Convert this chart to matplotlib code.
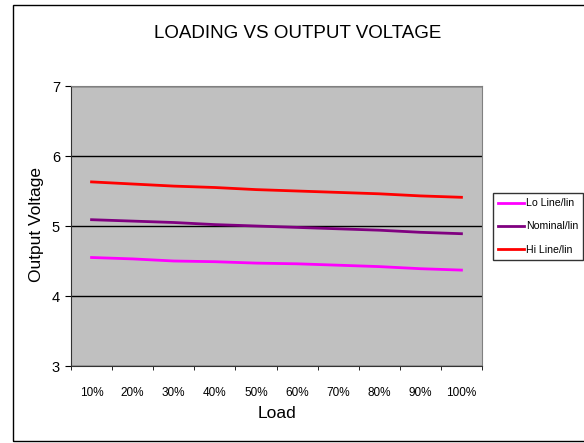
import numpy as np
import matplotlib
matplotlib.use("Agg")
import matplotlib.pyplot as plt
from matplotlib.patches import Rectangle

plt.rcParams['font.family'] = ['Liberation Sans', 'DejaVu Sans']

# 数据
loads = ['10%', '20%', '30%', '40%', '50%', '60%', '70%', '80%', '90%', '100%']
lo_line = [4.55, 4.53, 4.50, 4.49, 4.47, 4.46, 4.44, 4.42, 4.39, 4.37]
nominal = [5.09, 5.07, 5.05, 5.02, 5.00, 4.98, 4.96, 4.94, 4.91, 4.89]
hi_line = [5.63, 5.60, 5.57, 5.55, 5.52, 5.50, 5.48, 5.46, 5.43, 5.41]
series_names = ['Lo Line/lin', 'Nominal/lin', 'Hi Line/lin']
series_colors = ['#FF00FF', '#800080', '#FF0000']

W, H = 584, 443
fig = plt.figure(figsize=(W / 100, H / 100), dpi=100)

# 外框
fig.patches.append(Rectangle((13 / W, 1 - 441 / H), 600 / W, 436 / H,
                             transform=fig.transFigure, fill=False,
                             edgecolor='black', linewidth=1))

ax = fig.add_axes([71 / W, 1 - 366 / H, 411 / W, 280 / H])
ax.set_facecolor('#C0C0C0')

x = np.arange(len(loads))
for vals, name, c in zip([lo_line, nominal, hi_line], series_names, series_colors):
    ax.plot(x, vals, color=c, linewidth=2, label=name)

ax.set_xlim(-0.5, len(loads) - 0.5)
ax.set_ylim(3, 7)
ax.set_yticks([3, 4, 5, 6, 7])
ax.set_xticks(x)
ax.set_xticklabels(loads, fontsize=8.5)
ax.set_xticks(np.arange(-0.5, len(loads)), minor=True)
ax.tick_params(axis='x', which='major', length=0, pad=15)
ax.tick_params(axis='x', which='minor', length=3, direction='out')
ax.tick_params(axis='y', length=4, direction='out', labelsize=10.5, pad=4)
ax.grid(axis='y', color='black', linewidth=1)

for side in ['top', 'right']:
    ax.spines[side].set_color('#808080')
for side in ['left', 'bottom']:
    ax.spines[side].set_color('#333333')

ax.set_xlabel('Load', fontsize=12.5)
ax.xaxis.set_label_coords(277 / W, 1 - 413 / H, transform=fig.transFigure)
ax.set_ylabel('Output Voltage', fontsize=12.5)
ax.yaxis.set_label_coords(37 / W, 1 - 225 / H, transform=fig.transFigure)
for lab in (ax.xaxis.label, ax.yaxis.label):
    lab.set_va('center')
fig.text(298 / W, 1 - 33 / H, 'LOADING VS OUTPUT VOLTAGE', ha='center', va='center', fontsize=13.5)

leg = fig.legend(loc='upper left', bbox_to_anchor=(493 / W, 1 - 193 / H), fontsize=7.6,
                 frameon=True, fancybox=False, edgecolor='black', handlelength=2.4,
                 handletextpad=0.2, labelspacing=1.25, borderaxespad=0, borderpad=0.5)
leg.get_frame().set_linewidth(1)

fig.savefig('out.png', dpi=100)
